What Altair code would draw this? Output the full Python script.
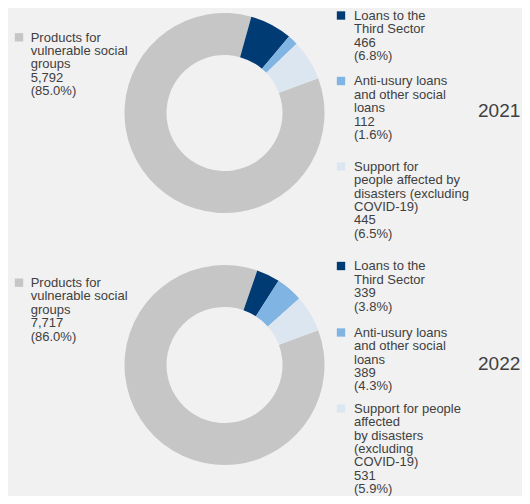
import altair as alt
import pandas as pd

# ---------------- data ----------------
years = ["2021", "2022"]
categories = [
    "Products for vulnerable social groups",
    "Loans to the Third Sector",
    "Anti-usury loans and other social loans",
    "Support for people affected by disasters (excluding COVID-19)",
]
values_2021 = [5792, 466, 112, 445]
values_2022 = [7717, 339, 389, 531]
pct_2021 = ["85.0%", "6.8%", "1.6%", "6.5%"]
pct_2022 = ["86.0%", "3.8%", "4.3%", "5.9%"]

# label line breaks as shown in the reference
lines_2021 = [
    ["Products for", "vulnerable social", "groups"],
    ["Loans to the", "Third Sector"],
    ["Anti-usury loans", "and other social", "loans"],
    ["Support for", "people affected by", "disasters (excluding", "COVID-19)"],
]
lines_2022 = [
    ["Products for", "vulnerable social", "groups"],
    ["Loans to the", "Third Sector"],
    ["Anti-usury loans", "and other social", "loans"],
    ["Support for people", "affected", "by disasters", "(excluding", "COVID-19)"],
]
colors = ["#c6c6c6", "#003b73", "#80b4e2", "#dce6f0"]

# ---------------- layout (pixels, chart coordinates) ----------------
W, H = 514, 488
BG = "#f1f1f1"
TXT = "#404040"
FONT = "Liberation Sans"
FS = 13
LH = 13.4
OUTER, INNER = 100, 58
START = 1.215  # radians, start angle of first slice
layout = {
    "2021": {"cx": 216.5, "cy": 105, "left_y": 37.3, "right_y": [15.5, 81, 166.5], "year_y": 111},
    "2022": {"cx": 216.5, "cy": 357, "left_y": 282.7, "right_y": [266, 332.5, 408.5], "year_y": 364.3},
}

vals = {"2021": values_2021, "2022": values_2022}
pcts = {"2021": pct_2021, "2022": pct_2022}
lines = {"2021": lines_2021, "2022": lines_2022}

rows = []
for y in years:
    for i, c in enumerate(categories):
        rows.append({"year": y, "category": c, "value": vals[y][i], "order": i})
df = pd.DataFrame(rows)

color_scale = alt.Scale(domain=categories, range=colors)
one = pd.DataFrame({"d": [0]})

layers = []
for y in years:
    L = layout[y]
    arc = (
        alt.Chart(df)
        .transform_filter(alt.datum.year == y)
        .mark_arc(outerRadius=OUTER, innerRadius=INNER)
        .encode(
            theta=alt.Theta("value:Q", stack="normalize",
                            scale=alt.Scale(range=[START, START + 6.283185307])),
            color=alt.Color("category:N", scale=color_scale, legend=None),
            order=alt.Order("order:Q"),
            x=alt.value(L["cx"]),
            y=alt.value(L["cy"]),
        )
    )
    layers.append(arc)

    for i, c in enumerate(categories):
        text = "\n".join(lines[y][i] + [f"{vals[y][i]:,}", f"({pcts[y][i]})"])
        if i == 0:
            sq_x, tx_x, c_y = 11, 22.7, L["left_y"] - 8
        else:
            sq_x, tx_x, c_y = 333, 346, L["right_y"][i - 1] - 8
        sq = alt.Chart(one).mark_square(size=70, color=colors[i], opacity=1).encode(
            x=alt.value(sq_x), y=alt.value(c_y)
        )
        tx = alt.Chart(one).mark_text(
            align="left", baseline="top", font=FONT, fontSize=FS,
            lineHeight=LH, lineBreak="\n", color=TXT,
        ).encode(x=alt.value(tx_x), y=alt.value(c_y - 5.6), text=alt.value(text))
        layers += [sq, tx]

    yr = alt.Chart(one).mark_text(
        align="left", baseline="middle", font=FONT, fontSize=19, color=TXT
    ).encode(x=alt.value(470), y=alt.value(L["year_y"] - 8), text=alt.value(y))
    layers.append(yr)

chart = (
    alt.layer(*layers)
    .resolve_scale(theta="independent")
    .properties(width=W, height=H, background=BG, padding=0,
                autosize=alt.AutoSizeParams(type="none"))
    .configure_view(stroke=None)
)

chart.save("out.html", embed_options={"renderer": "svg", "actions": False})
